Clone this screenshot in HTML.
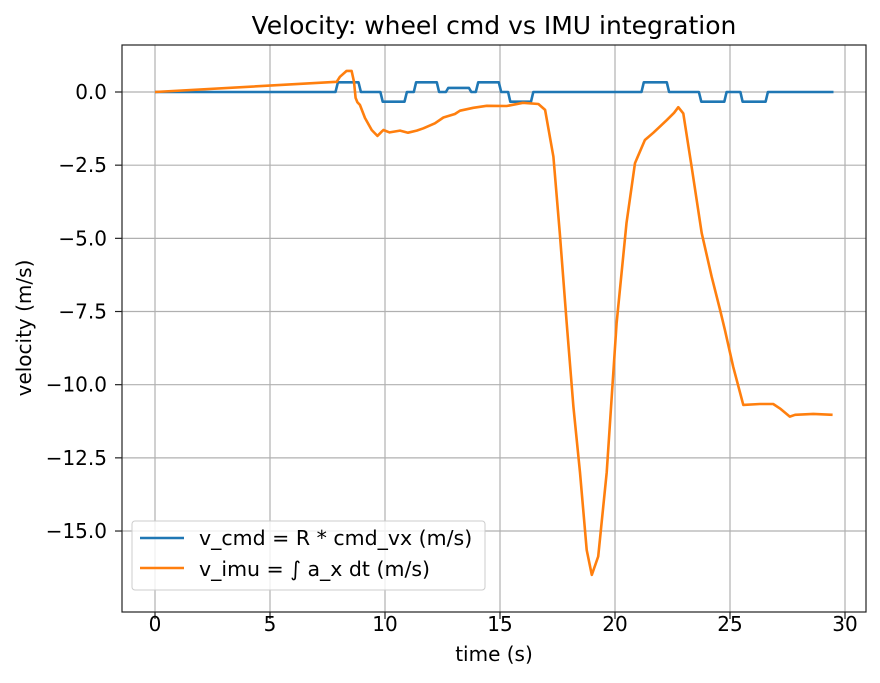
<!DOCTYPE html>
<html><head><meta charset="utf-8"><style>
body{margin:0;background:#fff;}
svg text{font-family:"DejaVu Sans","Liberation Sans",sans-serif;fill:#000;}
</style></head><body>
<svg id="chart" width="880" height="678" xmlns="http://www.w3.org/2000/svg">
<rect width="880" height="678" fill="#fff"/>
<g id="grid"></g>
<g id="series"></g>
<rect x="122" y="45" width="744" height="567" fill="none" stroke="#222" stroke-width="1.2"/>
<g id="ticks"></g>
<text x="494" y="34" text-anchor="middle" font-size="25">Velocity: wheel cmd vs IMU integration</text>
<text x="494" y="661" text-anchor="middle" font-size="20">time (s)</text>
<text x="31" y="328" text-anchor="middle" font-size="20" transform="rotate(-90 31 328)">velocity (m/s)</text>
<g>
<rect x="132" y="521" width="353" height="69" rx="3" fill="#fff" fill-opacity="0.8" stroke="#ccc"/>
<line x1="140" y1="538" x2="184" y2="538" stroke="#1f77b4" stroke-width="2.6"/>
<text x="199" y="545" font-size="20.5">v_cmd = R * cmd_vx (m/s)</text>
<line x1="140" y1="568" x2="184" y2="568" stroke="#ff7f0e" stroke-width="2.6"/>
<text x="199" y="576" font-size="20.5">v_imu = ∫ a_x dt (m/s)</text>
</g>
</svg>
<script>
const xTicks=[0,5,10,15,20,25,30];
const yTicks=[0,-2.5,-5,-7.5,-10,-12.5,-15];
const yTickLabels=["0.0","−2.5","−5.0","−7.5","−10.0","−12.5","−15.0"];
const cmdT=[0,7.85,7.95,8.85,8.95,9.8,9.9,10.85,10.95,11.25,11.35,12.25,12.35,12.65,12.75,13.65,13.75,13.95,14.05,14.95,15.05,15.35,15.45,16.35,16.45,21.15,21.25,22.25,22.35,23.65,23.75,24.75,24.85,25.45,25.55,26.55,26.65,29.5];
const cmdV=[0,0,0.33,0.33,0,0,-0.33,-0.33,0,0,0.33,0.33,0,0,0.14,0.14,0,0,0.33,0.33,0,0,-0.33,-0.33,0,0,0.33,0.33,0,0,-0.33,-0.33,0,0,-0.33,-0.33,0,0];
const imuT=[0,7.9,8.04,8.33,8.55,8.65,8.72,8.8,8.91,9.13,9.42,9.67,9.93,10.2,10.65,11.0,11.38,11.67,12.17,12.54,13.04,13.26,13.84,14.42,15.29,16.0,16.67,16.96,17.32,17.6,17.9,18.19,18.48,18.77,18.99,19.27,19.64,20.07,20.5,20.87,21.3,21.67,22.25,22.57,22.75,22.97,23.33,23.77,24.2,24.57,24.78,25.14,25.58,26.3,26.88,27.17,27.6,27.83,28.62,29.46];
const imuV=[0,0.35,0.52,0.72,0.72,0.35,-0.2,-0.35,-0.44,-0.89,-1.3,-1.5,-1.3,-1.38,-1.32,-1.39,-1.32,-1.24,-1.07,-0.87,-0.75,-0.64,-0.54,-0.47,-0.48,-0.37,-0.41,-0.61,-2.21,-4.82,-7.9,-10.75,-13.0,-15.65,-16.5,-15.87,-13.0,-7.9,-4.48,-2.43,-1.64,-1.39,-0.96,-0.71,-0.52,-0.73,-2.55,-4.82,-6.3,-7.45,-8.13,-9.39,-10.69,-10.66,-10.66,-10.81,-11.09,-11.03,-11.0,-11.03];
const NS="http://www.w3.org/2000/svg";
const X=t=>155+t*23;
const Y=v=>92-v*29.268;
function mk(tag,attrs,parent){const e=document.createElementNS(NS,tag);for(const k in attrs)e.setAttribute(k,attrs[k]);parent.appendChild(e);return e;}
const grid=document.getElementById('grid'),ticks=document.getElementById('ticks'),series=document.getElementById('series');
xTicks.forEach(t=>{
  const g=mk('line',{x1:X(t),x2:X(t),y1:45,y2:612,stroke:'#b0b0b0','stroke-width':1.2},grid);
  
  
  const tk=mk('line',{x1:X(t),x2:X(t),y1:612,y2:619,stroke:'#222','stroke-width':1.2},ticks);
  
  
  const tx=mk('text',{x:X(t),y:631,'text-anchor':'middle','font-size':20},ticks);
  tx.textContent=String(t);
  
  
});
yTicks.forEach((v,i)=>{
  const g=mk('line',{x1:122,x2:866,y1:Y(v),y2:Y(v),stroke:'#b0b0b0','stroke-width':1.2},grid);
  
  
  const tk=mk('line',{x1:115,x2:122,y1:Y(v),y2:Y(v),stroke:'#222','stroke-width':1.2},ticks);
  
  
  const tx=mk('text',{x:107,y:Y(v)+7,'text-anchor':'end','font-size':20},ticks);
  tx.textContent=yTickLabels[i];
  
  
});
function path(ts,vs,color,name){
  const d=ts.map((t,i)=>(i?'L':'M')+X(t).toFixed(1)+','+Y(vs[i]).toFixed(1)).join('');
  const p=mk('path',{d:d,fill:'none',stroke:color,'stroke-width':2.6,'stroke-linejoin':'round'},series);
  
  
}
path(cmdT,cmdV,'#1f77b4','v-cmd-line');
path(imuT,imuV,'#ff7f0e','v-imu-line');
</script>
</body></html>
